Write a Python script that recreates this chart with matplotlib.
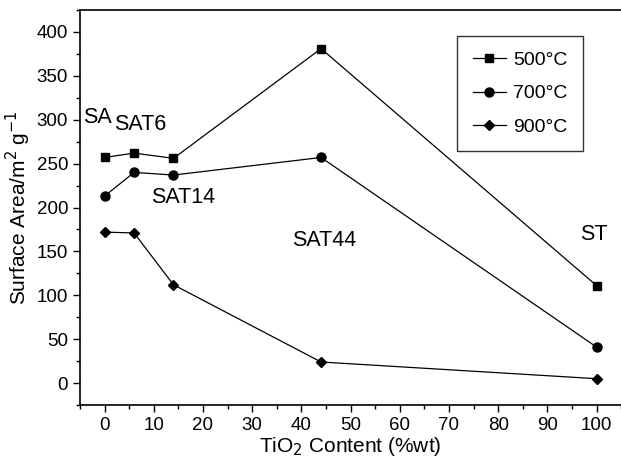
import matplotlib
matplotlib.use('Agg')
import matplotlib.pyplot as plt
from matplotlib.ticker import MultipleLocator

# TiO2 content (%wt) of the samples
tio2 = [0, 6, 14, 44, 100]
area_500 = [257, 262, 256, 381, 111]
area_700 = [213, 240, 237, 257, 41]
area_900 = [172, 171, 112, 24, 5]

sample_names = ['SA', 'SAT6', 'SAT14', 'SAT44', 'ST']
label_x = [-1.4, 7.3, 16.0, 44.6, 99.4]
label_y = [303, 294, 211, 162, 169]

plt.rcParams['font.family'] = ['Liberation Sans', 'DejaVu Sans']

fig = plt.figure(figsize=(6.21, 4.59), dpi=100)
ax = fig.add_axes([0.1288, 0.1176, 0.8715, 0.8606])

ax.plot(tio2, area_500, color='black', lw=0.9, marker='s', ms=6, label='500°C')
ax.plot(tio2, area_700, color='black', lw=0.9, marker='o', ms=6.5, label='700°C')
ax.plot(tio2, area_900, color='black', lw=0.9, marker='D', ms=5.5, label='900°C')

for name, x, y in zip(sample_names, label_x, label_y):
    ax.text(x, y, name, fontsize=15.5, ha='center', va='center')

ax.set_xlim(-5, 105)
ax.set_ylim(-25, 425)
ax.xaxis.set_major_locator(MultipleLocator(10))
ax.xaxis.set_minor_locator(MultipleLocator(5))
ax.yaxis.set_major_locator(MultipleLocator(50))
ax.yaxis.set_minor_locator(MultipleLocator(25))
ax.tick_params(which='major', direction='out', length=5, width=1, labelsize=13.5)
ax.tick_params(which='minor', direction='out', length=3, width=1)
ax.spines['right'].set_visible(False)
for s in ['left', 'bottom', 'top']:
    ax.spines[s].set_linewidth(1.2)

ax.set_xlabel('TiO$_2$ Content (%wt)', fontsize=15, labelpad=1)
ax.set_ylabel('Surface Area/m$^2$ g$^{-1}$', fontsize=15, labelpad=3)

leg = ax.legend(loc='upper right', bbox_to_anchor=(0.93, 0.934), borderaxespad=0,
                fontsize=14, frameon=True, fancybox=False, edgecolor='black',
                handlelength=1.7, handletextpad=0.4, borderpad=0.8, labelspacing=0.8)
leg.get_frame().set_linewidth(1.0)

fig.savefig('out.png', dpi=100)
